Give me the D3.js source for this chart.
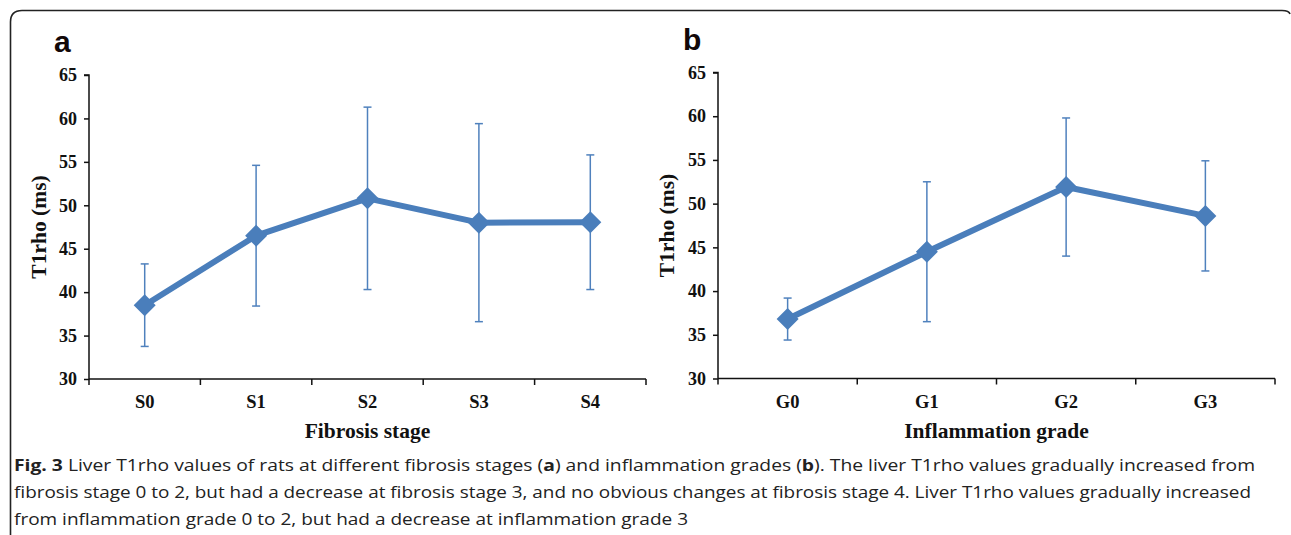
<!DOCTYPE html>
<html>
<head>
<meta charset="utf-8">
<script src="https://cdn.jsdelivr.net/npm/d3@7"></script>
<style>
  body { margin: 0; background: #fff; }
  svg { display: block; }
</style>
</head>
<body>
<svg id="fig" width="1291" height="535"></svg>
<script>
// panel a: fibrosis stage
const stages = ['S0', 'S1', 'S2', 'S3', 'S4'];
const stageMean = [38.5, 46.5, 50.8, 48.0, 48.05];
const stageSd = [4.75, 8.1, 10.5, 11.4, 7.75];

// panel b: inflammation grade
const grades = ['G0', 'G1', 'G2', 'G3'];
const gradeMean = [36.8, 44.5, 51.9, 48.6];
const gradeSd = [2.4, 8.0, 7.9, 6.3];

const yTicks = [30, 35, 40, 45, 50, 55, 60, 65];

const captionLines = [
  [['Fig. 3', true], [' Liver T1rho values of rats at different fibrosis stages (', false], ['a', true], [') and inflammation grades (', false], ['b', true], ['). The liver T1rho values gradually increased from', false]],
  [['fibrosis stage 0 to 2, but had a decrease at fibrosis stage 3, and no obvious changes at fibrosis stage 4. Liver T1rho values gradually increased', false]],
  [['from inflammation grade 0 to 2, but had a decrease at inflammation grade 3', false]]
];

const svg = d3.select('#fig');
const serif = '"Liberation Serif", "Times New Roman", serif';
const lineColor = '#4a7ebb';
const barColor = '#4f81bd';

// rounded frame around the figure
svg.append('path')
  .attr('d', 'M10.5,535 L10.5,22 Q10.5,10.5 22,10.5 L1282,10.5 Q1289,10.5 1290,14')
  .attr('fill', 'none')
  .attr('stroke', '#222')
  .attr('stroke-width', 1.6);

function drawPanel(opts) {
  const { cats, mean, sd, x0, x1, yTop, yBot, label, labelX, labelY, xTitle, yTitleX } = opts;
  const g = svg.append('g');

  const x = d3.scaleBand().domain(cats).range([x0, x1]).padding(0);
  const y = d3.scaleLinear().domain([30, 65]).range([yBot, yTop]);

  // y axis
  const yAxis = g.append('g')
    .attr('transform', `translate(${x0},0)`)
    .call(d3.axisLeft(y).tickValues(yTicks).tickSize(5).tickPadding(7));
  yAxis.select('.domain').attr('stroke', '#111').attr('stroke-width', 1.5).attr('d', `M-5,${yTop}H0V${yBot}`);
  yAxis.selectAll('.tick line').attr('stroke', '#111').attr('stroke-width', 1.5);
  yAxis.selectAll('.tick text')
    .style('font-family', serif).style('font-weight', 'bold').style('font-size', '18px').attr('fill', '#111');

  // x axis with ticks at category boundaries
  const xAxis = g.append('g').attr('transform', `translate(0,${yBot})`);
  xAxis.append('line')
    .attr('x1', x0).attr('x2', x1).attr('y1', 0).attr('y2', 0)
    .attr('stroke', '#111').attr('stroke-width', 1.5);
  const bounds = cats.map(c => x(c)).concat([x1]);
  xAxis.selectAll('line.tk').data(bounds).join('line')
    .attr('class', 'tk')
    .attr('x1', d => d).attr('x2', d => d).attr('y1', 0).attr('y2', 6)
    .attr('stroke', '#111').attr('stroke-width', 1.5);
  xAxis.selectAll('text').data(cats).join('text')
    .attr('x', d => x(d) + x.bandwidth() / 2)
    .attr('y', 29)
    .attr('text-anchor', 'middle')
    .style('font-family', serif).style('font-weight', 'bold').style('font-size', '18.5px')
    .attr('fill', '#111')
    .text(d => d);

  // axis titles
  g.append('text')
    .attr('x', (x0 + x1) / 2).attr('y', yBot + 59)
    .attr('text-anchor', 'middle')
    .style('font-family', serif).style('font-weight', 'bold').style('font-size', '21.5px')
    .attr('fill', '#111')
    .text(xTitle);
  g.append('text')
    .attr('transform', `translate(${yTitleX},${(yTop + yBot) / 2}) rotate(-90)`)
    .attr('text-anchor', 'middle')
    .style('font-family', serif).style('font-weight', 'bold').style('font-size', '21.5px')
    .attr('fill', '#111')
    .text('T1rho (ms)');

  // panel letter
  g.append('text')
    .attr('x', labelX).attr('y', labelY)
    .style('font-family', '"Liberation Sans", Arial, sans-serif')
    .style('font-weight', 'bold').style('font-size', '30px')
    .attr('fill', '#120808')
    .text(label);

  const pts = cats.map((c, i) => ({ cx: x(c) + x.bandwidth() / 2, m: mean[i], s: sd[i] }));

  // error bars
  const eb = g.append('g').attr('stroke', barColor).attr('stroke-width', 1.5).attr('fill', 'none');
  pts.forEach(p => {
    eb.append('line').attr('x1', p.cx).attr('x2', p.cx).attr('y1', y(p.m - p.s)).attr('y2', y(p.m + p.s));
    [p.m - p.s, p.m + p.s].forEach(v => {
      eb.append('line').attr('x1', p.cx - 4).attr('x2', p.cx + 4).attr('y1', y(v)).attr('y2', y(v));
    });
  });

  // mean line
  g.append('path')
    .datum(pts)
    .attr('fill', 'none')
    .attr('stroke', lineColor)
    .attr('stroke-width', 6)
    .attr('stroke-linejoin', 'round')
    .attr('d', d3.line().x(d => d.cx).y(d => y(d.m)));

  // diamond markers
  g.selectAll('path.mk').data(pts).join('path')
    .attr('class', 'mk')
    .attr('d', d => `M${d.cx},${y(d.m) - 11}L${d.cx + 11},${y(d.m)}L${d.cx},${y(d.m) + 11}L${d.cx - 11},${y(d.m)}Z`)
    .attr('fill', lineColor);
}

drawPanel({
  cats: stages, mean: stageMean, sd: stageSd,
  x0: 89, x1: 646, yTop: 75, yBot: 379,
  label: 'a', labelX: 54, labelY: 52, xTitle: 'Fibrosis stage', yTitleX: 46
});

drawPanel({
  cats: grades, mean: gradeMean, sd: gradeSd,
  x0: 718, x1: 1275, yTop: 72.5, yBot: 378.5,
  label: 'b', labelX: 683, labelY: 50, xTitle: 'Inflammation grade', yTitleX: 674
});

// caption
const capWidths = [1241, 1237, 674];
const cap = svg.append('g');
captionLines.forEach((parts, i) => {
  const t = cap.append('text')
    .attr('x', 14).attr('y', 471 + i * 27)
    .style('font-family', '"Open Sans", "Noto Sans", sans-serif')
    .style('font-size', '16px')
    .attr('fill', '#222')
    .attr('textLength', capWidths[i])
    .attr('lengthAdjust', 'spacingAndGlyphs');
  parts.forEach(([s, b]) => {
    t.append('tspan').style('font-weight', b ? 'bold' : 'normal').text(s);
  });
});
</script>
</body>
</html>
